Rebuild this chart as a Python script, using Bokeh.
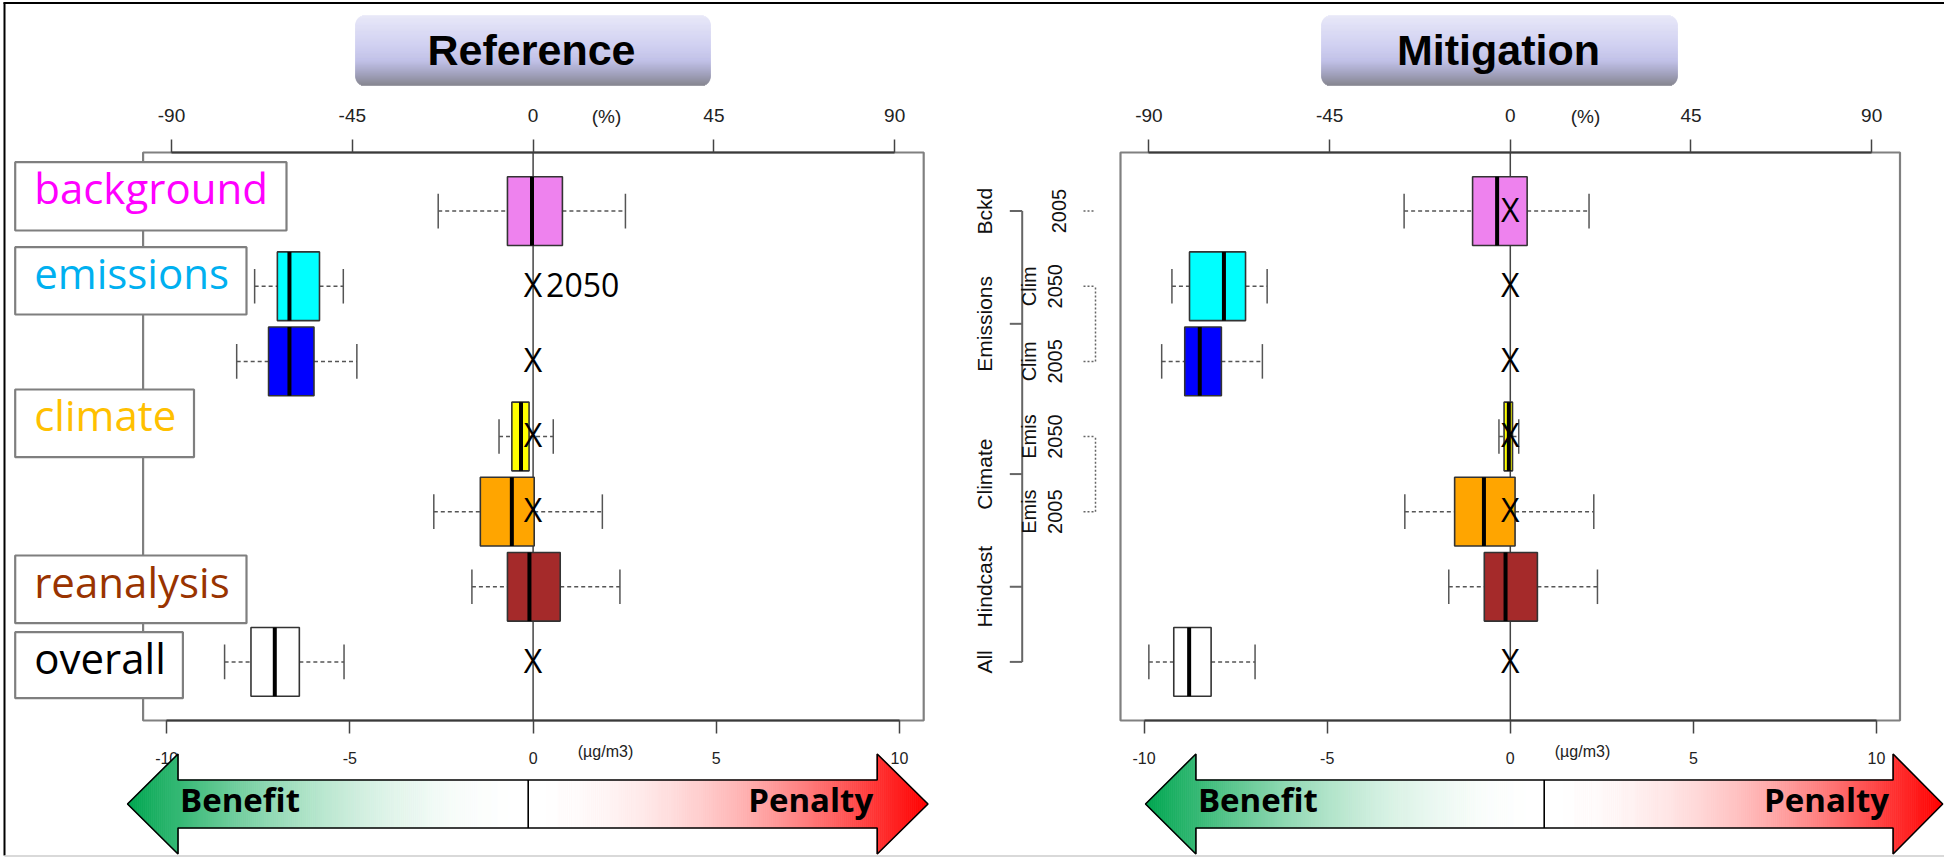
import math
from bokeh.plotting import figure
from bokeh.models import Range1d, LinearAxis, FixedTicker, ColumnDataSource
from bokeh.core.properties import value
from bokeh.embed import file_html
from bokeh.resources import INLINE

# ------------------------------------------------------------------ data
row_pos = [7, 6, 5, 4, 3, 2, 1]
series = ["background", "emissions 2050", "emissions 2005", "climate 2050",
          "climate 2005", "reanalysis", "overall"]
box_fill = ["violet", "cyan", "blue", "yellow", "orange", "brown", "white"]

# Reference panel (ug/m3)
ref_lo  = [-2.59, -7.60, -8.09, -0.93, -2.71, -1.67, -8.42]
ref_q1  = [-0.70, -6.98, -7.22, -0.58, -1.44, -0.70, -7.70]
ref_med = [-0.03, -6.65, -6.65, -0.33, -0.58, -0.10, -7.05]
ref_q3  = [ 0.80, -5.83, -5.98, -0.11,  0.03,  0.74, -6.38]
ref_hi  = [ 2.52, -5.18, -4.81,  0.55,  1.89,  2.37, -5.16]
ref_x_rows = [6, 5, 4, 3, 1]
ref_x_vals = [0, 0, 0, 0, 0]

# Mitigation panel (ug/m3)
mit_lo  = [-2.90, -9.24, -9.52, -0.31, -2.88, -1.68, -9.87]
mit_q1  = [-1.03, -8.76, -8.89, -0.17, -1.52, -0.71, -9.19]
mit_med = [-0.36, -7.82, -8.48, -0.04, -0.72, -0.13, -8.77]
mit_q3  = [ 0.46, -7.23, -7.89,  0.06,  0.13,  0.74, -8.17]
mit_hi  = [ 2.15, -6.64, -6.77,  0.23,  2.28,  2.38, -6.97]
mit_x_rows = [7, 6, 5, 4, 3, 1]
mit_x_vals = [0, 0, 0, 0, 0, 0]

ug_ticks = [-10, -5, 0, 5, 10]
ug_tick_labels = ["-10", "-5", "0", "5", "10"]
pct_ticks = [-90, -45, 0, 45, 90]
pct_tick_labels = ["-90", "-45", "0", "45", "90"]
pct_per_ug = 9.12

left_labels = ["background", "emissions", "climate", "reanalysis", "overall"]
left_label_colors = ["#ff00ff", "#00b0f0", "#ffc000", "#993300", "#000000"]

group_labels = ["Bckd", "Emissions", "Climate", "Hindcast", "All"]
group_rows = [7, 5.5, 3.5, 2, 1]
sub_labels = ["2005", "Clim\n2050", "Clim\n2005", "Emis\n2050", "Emis\n2005"]
sub_rows = [7, 6, 5, 4, 3]

titles = ["Reference", "Mitigation"]

# ------------------------------------------------------------------ layout
W, H = 1944, 858
def Y(v):           # reference pixel row -> canvas data y
    return H - v

BLF = 0.42          # baseline correction (fraction of font size)
def BL(v, size):
    return Y(v - BLF * size)

ROW_PX = 75.13
def row_of(yref):
    return 0.22 + (720 - yref) / ROW_PX

p = figure(width=W, height=H, x_range=Range1d(0, W), y_range=Range1d(0, H),
           x_axis_location=None, y_axis_location=None, toolbar_location=None,
           output_backend="svg", min_border=0, outline_line_color=None)
p.xgrid.visible = False
p.ygrid.visible = False
p.background_fill_color = "white"
p.extra_y_ranges = {"rows": Range1d(row_of(H), row_of(0))}

panels = [
    dict(key="L", zero=532.6, ppu=36.64, fx0=142.6, fx1=923.2,
         lo=ref_lo, q1=ref_q1, med=ref_med, q3=ref_q3, hi=ref_hi,
         xr=ref_x_rows, xv=ref_x_vals, title=titles[0],
         tbox=(355, 710), tcx=531, pct_lab=606, ug_lab=605,
         arrow=(127, 177.5, 527.7, 876.7, 927.5)),
    dict(key="R", zero=1509.8, ppu=36.62, fx0=1120.0, fx1=1899.5,
         lo=mit_lo, q1=mit_q1, med=mit_med, q3=mit_q3, hi=mit_hi,
         xr=mit_x_rows, xv=mit_x_vals, title=titles[1],
         tbox=(1321, 1677), tcx=1498, pct_lab=1585, ug_lab=1582,
         arrow=(1145, 1195.4, 1543.7, 1892.6, 1942.2)),
]

BOX_H = 0.457
CAP_H = 0.23

def mix(c0, c1, t):
    return "#%02x%02x%02x" % tuple(int(round(a + (b - a) * t)) for a, b in zip(c0, c1))

def title_box(x0, x1, y0, y1, rad):
    stops = [(0.0, (231, 231, 248)), (0.45, (205, 205, 240)), (0.65, (190, 190, 230)),
             (0.82, (160, 160, 190)), (1.0, (128, 128, 138))]
    def col(t):
        for (ta, ca), (tb, cb) in zip(stops[:-1], stops[1:]):
            if t <= tb:
                return mix(ca, cb, (t - ta) / (tb - ta))
        return mix(stops[-1][1], stops[-1][1], 0)
    L, R, T, B, C = [], [], [], [], []
    n = int(round(y1 - y0))
    for i in range(n):
        ya = y0 + i
        ym = ya + 0.5
        d = 0.0
        if ym < y0 + rad:
            dy = y0 + rad - ym
            d = rad - math.sqrt(max(rad * rad - dy * dy, 0))
        elif ym > y1 - rad:
            dy = ym - (y1 - rad)
            d = rad - math.sqrt(max(rad * rad - dy * dy, 0))
        L.append(x0 + d); R.append(x1 - d); T.append(Y(ya)); B.append(Y(ya + 1))
        C.append(col((ym - y0) / (y1 - y0)))
    p.quad(left=L, right=R, top=T, bottom=B, fill_color=C, line_color=C, line_width=0.6)

GREEN = (0, 166, 80)
RED = (255, 0, 0)
WHITE = (255, 255, 255)

def draw_arrow(tipL, baseL, div, baseR, tipR, ymid=803.5, sh=24, hh=50):
    def half(kind, x):
        if kind == "hl":
            return (x - tipL) / (baseL - tipL) * hh
        if kind == "hr":
            return (tipR - x) / (tipR - baseR) * hh
        return sh
    def color(kind, x):
        if kind == "hl":
            return mix(WHITE, GREEN, 0.8 + 0.2 * (baseL - x) / (baseL - tipL))
        if kind == "sl":
            s = (div - x) / (div - baseL)
            return mix(WHITE, GREEN, 0.8 * s ** 2)
        if kind == "sr":
            s = (x - div) / (baseR - div)
            return mix(WHITE, RED, 0.8 * s ** 2)
        return mix(WHITE, RED, 0.8 + 0.2 * (x - baseR) / (tipR - baseR))
    xs, ys, cs = [], [], []
    for a, b, kind in [(tipL, baseL, "hl"), (baseL, div, "sl"), (div, baseR, "sr"), (baseR, tipR, "hr")]:
        n = max(1, int((b - a) / 2))
        for i in range(n):
            xa = a + (b - a) * i / n
            xb = a + (b - a) * (i + 1) / n
            ha, hb = half(kind, xa), half(kind, xb)
            xs.append([xa, xb, xb, xa])
            ys.append([Y(ymid - ha), Y(ymid - hb), Y(ymid + hb), Y(ymid + ha)])
            cs.append(color(kind, (xa + xb) / 2))
    p.patches(xs=xs, ys=ys, fill_color=cs, line_color=cs, line_width=0.8, level="overlay")
    ox = [tipL, baseL, baseL, baseR, baseR, tipR, baseR, baseR, baseL, baseL]
    oy = [ymid, ymid - hh, ymid - sh, ymid - sh, ymid - hh, ymid, ymid + hh, ymid + sh, ymid + sh, ymid + hh]
    p.patch(x=ox, y=[Y(v) for v in oy], fill_color=None, line_color="black", line_width=1.6, level="overlay")
    p.segment(x0=[div], y0=[Y(ymid - sh)], x1=[div], y1=[Y(ymid + sh)], line_color="black",
              line_width=1.6, level="overlay")
    p.text(x=[baseL + 2], y=[BL(813.3, 33)], text=["Benefit"], text_font=value("Open Sans"),
           text_font_style="bold", text_font_size="33px", text_color="black",
           text_align="left", text_baseline="alphabetic", level="overlay")
    p.text(x=[baseR - 4], y=[BL(813.3, 33)], text=["Penalty"], text_font=value("Open Sans"),
           text_font_style="bold", text_font_size="33px", text_color="black",
           text_align="right", text_baseline="alphabetic", level="overlay")

# outer picture border
p.segment(x0=[3, 4], y0=[Y(2.5), Y(2)], x1=[W, 4], y1=[Y(2.5), Y(855)],
          line_color="black", line_width=2)
p.segment(x0=[4], y0=[Y(855.5)], x1=[W], y1=[Y(855.5)], line_color="#cccccc", line_width=1.5)

for pn in panels:
    k = pn["key"]
    z, ppu = pn["zero"], pn["ppu"]
    p.extra_x_ranges[k] = Range1d((0 - z) / ppu, (W - z) / ppu)
    p.extra_x_ranges[k + "pct"] = Range1d(pct_per_ug * (0 - z) / ppu, pct_per_ug * (W - z) / ppu)

    # title box
    title_box(pn["tbox"][0], pn["tbox"][1], 15, 85.5, 10)
    p.text(x=[pn["tcx"]], y=[BL(68, 43)], text=[pn["title"]], text_font=value("Liberation Sans"),
           text_font_style="bold", text_font_size="43px", text_color="black",
           text_align="center", text_baseline="alphabetic")

    # plot frame
    p.quad(left=[pn["fx0"]], right=[pn["fx1"]], top=[Y(152)], bottom=[Y(720)],
           fill_color=None, line_color="#808080", line_width=2.2)

    # zero line
    p.segment(x0=[0], y0=[Y(152)], x1=[0], y1=[Y(720)], x_range_name=k,
              line_color="#444444", line_width=1.5)

    # axes
    ax_top = LinearAxis(x_range_name=k + "pct", fixed_location=Y(152),
                        ticker=FixedTicker(ticks=pct_ticks), bounds=(-90, 90),
                        major_label_overrides=dict(zip(pct_ticks, pct_tick_labels)),
                        axis_line_color="#3a3a3a", axis_line_width=2,
                        major_tick_line_color="#444444", major_tick_line_width=1.5,
                        major_tick_out=13, major_tick_in=0, minor_tick_out=0, minor_tick_in=0,
                        major_label_text_font="Liberation Sans",
                        major_label_text_font_size="19px", major_label_text_color="#222222",
                        major_label_standoff=18)
    p.add_layout(ax_top, "above")
    ax_bot = LinearAxis(x_range_name=k, fixed_location=Y(720),
                        ticker=FixedTicker(ticks=ug_ticks), bounds=(-10, 10),
                        major_label_overrides=dict(zip(ug_ticks, ug_tick_labels)),
                        axis_line_color="#3a3a3a", axis_line_width=2,
                        major_tick_line_color="#444444", major_tick_line_width=1.5,
                        major_tick_out=13, major_tick_in=0, minor_tick_out=0, minor_tick_in=0,
                        major_label_text_font="Liberation Sans",
                        major_label_text_font_size="16px", major_label_text_color="#222222",
                        major_label_standoff=18)
    p.add_layout(ax_bot, "below")
    p.text(x=[pn["pct_lab"]], y=[BL(124.3, 19)], text=["(%)"], text_font=value("Liberation Sans"),
           text_font_size="19px", text_color="#222222", text_align="center",
           text_baseline="alphabetic")
    p.text(x=[pn["ug_lab"]], y=[BL(758, 16)], text=["(\u00b5g/m3)"], text_font=value("Liberation Sans"),
           text_font_size="16px", text_color="#222222", text_align="center",
           text_baseline="alphabetic")

    # boxplots
    src = ColumnDataSource(dict(
        row=row_pos, lo=pn["lo"], q1=pn["q1"], med=pn["med"], q3=pn["q3"], hi=pn["hi"],
        fill=box_fill,
        bot=[r - BOX_H for r in row_pos], top=[r + BOX_H for r in row_pos],
        cbot=[r - CAP_H for r in row_pos], ctop=[r + CAP_H for r in row_pos]))
    kw = dict(source=src, x_range_name=k, y_range_name="rows")
    p.segment(x0="lo", y0="row", x1="q1", y1="row", line_color="#555555", line_width=1.5,
              line_dash="4 3", **kw)
    p.segment(x0="q3", y0="row", x1="hi", y1="row", line_color="#555555", line_width=1.5,
              line_dash="4 3", **kw)
    p.segment(x0="lo", y0="cbot", x1="lo", y1="ctop", line_color="#555555", line_width=1.5, **kw)
    p.segment(x0="hi", y0="cbot", x1="hi", y1="ctop", line_color="#555555", line_width=1.5, **kw)
    p.quad(left="q1", right="q3", bottom="bot", top="top", fill_color="fill",
           line_color="#333333", line_width=1.6, **kw)
    p.segment(x0="med", y0="bot", x1="med", y1="top", line_color="black", line_width=4, **kw)

    # X markers
    p.text(x=pn["xv"], y=pn["xr"], text=["X"] * len(pn["xr"]), x_range_name=k, y_range_name="rows",
           text_font=value("Open Sans"), text_font_size="32px", text_color="black",
           text_align="center", text_baseline="alphabetic", y_offset=11.7 - BLF * 32)

    draw_arrow(*pn["arrow"])

# "2050" note in the Reference panel
p.text(x=[0], y=[6], text=["2050"], x_range_name="L", y_range_name="rows", x_offset=13,
       text_font=value("Open Sans"), text_font_size="32px", text_color="black",
       text_align="left", text_baseline="alphabetic", y_offset=11.7 - BLF * 32)

# left category boxes (Reference panel)
lab_boxes = [(14.7, 286.0, 161.7, 230.0, 205.0), (14.7, 246.0, 246.7, 314.0, 290.0),
             (14.7, 193.5, 389.0, 456.7, 431.7), (14.7, 246.0, 555.0, 622.7, 598.3),
             (14.7, 182.4, 631.7, 697.7, 675.0)]
p.quad(left=[b[0] for b in lab_boxes], right=[b[1] for b in lab_boxes],
       top=[Y(b[2]) for b in lab_boxes], bottom=[Y(b[3]) for b in lab_boxes],
       fill_color="white", line_color="#7f7f7f", line_width=2.2)
p.text(x=[33.7] * len(lab_boxes), y=[BL(b[4], 42) for b in lab_boxes], text=left_labels,
       text_color=left_label_colors, text_font=value("Open Sans"), text_font_size="42px",
       text_align="left", text_baseline="alphabetic")

# right panel: group axis and sub labels
p.segment(x0=[1021.7], y0=[1], x1=[1021.7], y1=[7], y_range_name="rows",
          line_color="#666666", line_width=2)
p.segment(x0=[1009.3] * len(group_rows), y0=group_rows, x1=[1021.7] * len(group_rows),
          y1=group_rows, y_range_name="rows", line_color="#666666", line_width=2)
p.text(x=[993.3 - BLF * 21] * len(group_rows), y=group_rows, text=group_labels, y_range_name="rows",
       angle=math.pi / 2, text_font=value("Liberation Sans"), text_font_size="21px",
       text_color="#111111", text_align="center", text_baseline="alphabetic")
p.text(x=[1065.6] * len(sub_rows), y=sub_rows, text=sub_labels, y_range_name="rows",
       angle=math.pi / 2, text_font=value("Liberation Sans"), text_font_size="20px",
       text_color="#111111", text_align="center", text_baseline="bottom", text_line_height=1.2)
# dotted brackets
br_x0 = [1083, 1083, 1083, 1095, 1083, 1083, 1095]
br_y0 = [7, 6, 5, 5, 4, 3, 3]
br_x1 = [1095, 1095, 1095, 1095, 1095, 1095, 1095]
br_y1 = [7, 6, 5, 6, 4, 3, 4]
p.segment(x0=br_x0, y0=br_y0, x1=br_x1, y1=br_y1, y_range_name="rows",
          line_color="#666666", line_width=1.5, line_dash="2 2")

open("out.html", "w").write(file_html(p, INLINE))
